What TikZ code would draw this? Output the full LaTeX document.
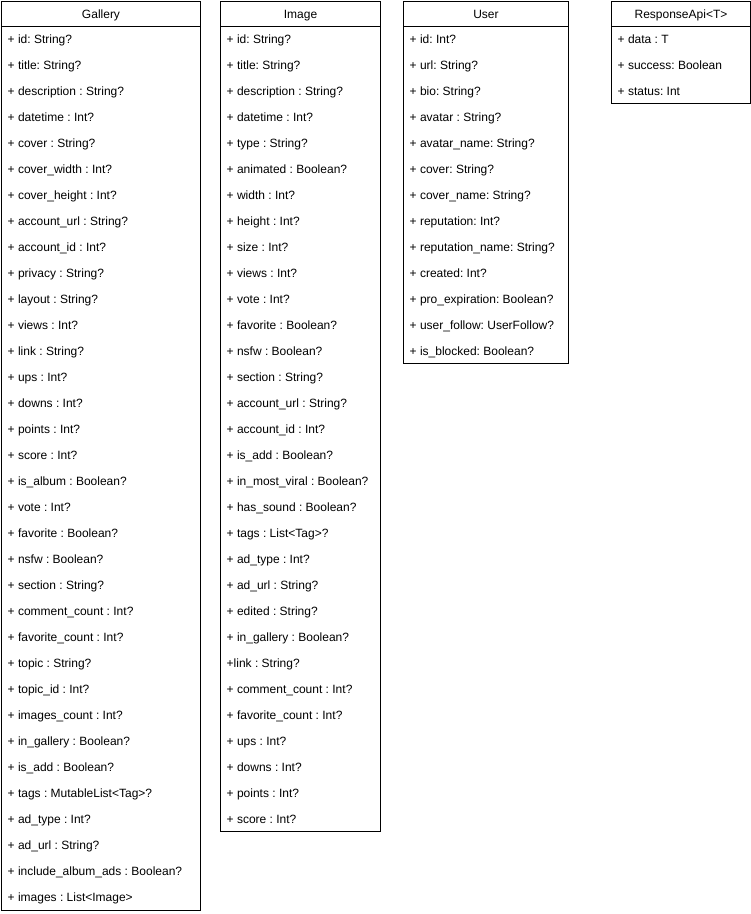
\documentclass[tikz,border=0pt]{standalone}
\usepackage{fontspec}
\setmainfont{Liberation Sans}
\usepackage{tikz}
\usetikzlibrary{calc}
\frenchspacing

\begin{document}
\begin{tikzpicture}[x=1pt,y=-1pt,
   classbox/.style={draw,line width=1pt,anchor=north west,inner sep=0pt},
   classname/.style={anchor=base,inner sep=0pt,font=\fontsize{12}{14}\selectfont},
   attr/.style={anchor=base west,inner sep=0pt,font=\fontsize{12}{14}\selectfont}]
\useasboundingbox (0,0) rectangle (751,914);

% Gallery
\node[classbox,minimum width=199pt,minimum height=909pt] (gallery) at (1,1) {};
\node[classname] (gallery-name) at ($(gallery.north)+(0,17.5)$) {Gallery};
\coordinate (gallery-sep) at ($(gallery.north west)+(0,25)$);
\draw[line width=1pt] (gallery-sep) -- ++(199,0);
\foreach \attr [count=\i] in {+ id: String?, + title: String?, + description : String?,
   + datetime : Int?, + cover : String?, + cover\_width : Int?, + cover\_height : Int?,
   + account\_url : String?, + account\_id : Int?, + privacy : String?, + layout : String?,
   + views : Int?, + link : String?, + ups : Int?, + downs : Int?, + points : Int?,
   + score : Int?, + is\_album : Boolean?, + vote : Int?, + favorite : Boolean?,
   + nsfw : Boolean?, + section : String?, + comment\_count : Int?,
   + favorite\_count : Int?, + topic : String?, + topic\_id : Int?,
   + images\_count : Int?, + in\_gallery : Boolean?, + is\_add : Boolean?,
   + tags : MutableList<Tag>?, + ad\_type : Int?, + ad\_url : String?,
   + include\_album\_ads : Boolean?, + images : List<Image>}
   \node[attr] (gallery-\i) at ($(gallery.north west)+(6.5,16.5+26*\i)$) {\attr};

% Image
\node[classbox,minimum width=160pt,minimum height=830pt] (image) at (220,1) {};
\node[classname] (image-name) at ($(image.north)+(0,17.5)$) {Image};
\coordinate (image-sep) at ($(image.north west)+(0,25)$);
\draw[line width=1pt] (image-sep) -- ++(160,0);
\foreach \attr [count=\i] in {+ id: String?, + title: String?, + description : String?,
   + datetime : Int?, + type : String?, + animated : Boolean?, + width : Int?,
   + height : Int?, + size : Int?, + views : Int?, + vote : Int?, + favorite : Boolean?,
   + nsfw : Boolean?, + section : String?, + account\_url : String?,
   + account\_id : Int?, + is\_add : Boolean?, + in\_most\_viral : Boolean?,
   + has\_sound : Boolean?, + tags : List<Tag>?, + ad\_type : Int?,
   + ad\_url : String?, + edited : String?, + in\_gallery : Boolean?,
   +link : String?, + comment\_count : Int?, + favorite\_count : Int?,
   + ups : Int?, + downs : Int?, + points : Int?, + score : Int?}
   \node[attr] (image-\i) at ($(image.north west)+(6.5,16.5+26*\i)$) {\attr};

% User
\node[classbox,minimum width=165pt,minimum height=362pt] (user) at (403,1) {};
\node[classname] (user-name) at ($(user.north)+(0,17.5)$) {User};
\coordinate (user-sep) at ($(user.north west)+(0,25)$);
\draw[line width=1pt] (user-sep) -- ++(165,0);
\foreach \attr [count=\i] in {+ id: Int?, + url: String?, + bio: String?,
   + avatar : String?, + avatar\_name: String?, + cover: String?,
   + cover\_name: String?, + reputation: Int?, + reputation\_name: String?,
   + created: Int?, + pro\_expiration: Boolean?, + user\_follow: UserFollow?,
   + is\_blocked: Boolean?}
   \node[attr] (user-\i) at ($(user.north west)+(6.5,16.5+26*\i)$) {\attr};

% ResponseApi
\node[classbox,minimum width=139pt,minimum height=102pt] (response) at (611,1) {};
\node[classname] (response-name) at ($(response.north)+(0,17.5)$) {ResponseApi<T>};
\coordinate (response-sep) at ($(response.north west)+(0,25)$);
\draw[line width=1pt] (response-sep) -- ++(139,0);
\foreach \attr [count=\i] in {+ data : T, + success: Boolean, + status: Int}
   \node[attr] (response-\i) at ($(response.north west)+(6.5,16.5+26*\i)$) {\attr};
\end{tikzpicture}
\end{document}
